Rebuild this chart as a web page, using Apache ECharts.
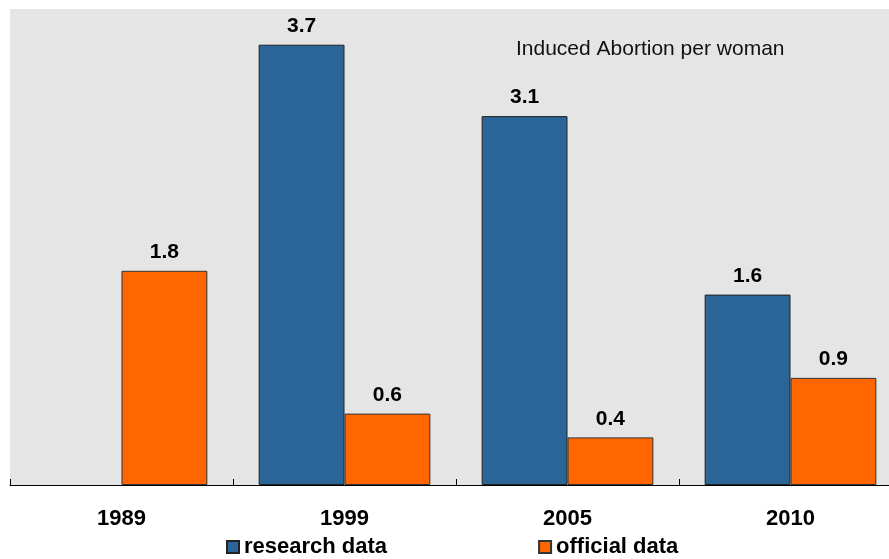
<!DOCTYPE html>
<html><head><meta charset="utf-8">
<script src="https://cdn.jsdelivr.net/npm/echarts@6/dist/echarts.min.js"></script>
<style>html,body{margin:0;padding:0;background:#fff;overflow:hidden;width:889px;height:559px}#c{width:902px;height:559px}</style>
</head><body><div id="c"></div>
<script>
var categories = ['1989', '1999', '2005', '2010'];
var researchData = [null, 3.7, 3.1, 1.6];
var officialData = [1.8, 0.6, 0.4, 0.9];
var seriesNames = ['research data', 'official data'];
var subtitle = 'Induced Abortion per woman';

var FONT = '"Liberation Sans", Arial, sans-serif';
var chart = echarts.init(document.getElementById('c'), null, {renderer: 'canvas'});
var labelStyle = {show: true, position: 'top', distance: 8, color: '#000', fontFamily: FONT, fontWeight: 'bold', fontSize: 21,
  formatter: function (p) { return p.value == null ? '' : p.value.toFixed(1); }};
chart.setOption({
  backgroundColor: '#fff',
  animation: false,
  title: {text: subtitle, left: 516, top: 39, padding: 0, textStyle: {fontFamily: FONT, fontWeight: 'normal', fontSize: 21, color: '#111'}},
  legend: {
    data: seriesNames, top: 536, left: 226, padding: 0, itemWidth: 12, itemHeight: 12, itemGap: 151, icon: 'rect',
    textStyle: {fontFamily: FONT, fontWeight: 'bold', fontSize: 22, color: '#000'}
  },
  grid: {left: 10, right: 0, top: 9, bottom: 74, show: true, backgroundColor: '#e5e5e5', borderWidth: 0, containLabel: false},
  xAxis: {
    type: 'category', data: categories,
    axisLine: {lineStyle: {color: '#000', width: 1}},
    axisTick: {show: true, inside: true, length: 6, lineStyle: {color: '#000'}},
    axisLabel: {margin: 23, color: '#000', fontFamily: FONT, fontWeight: 'bold', fontSize: 22}
  },
  yAxis: {type: 'value', min: 0, max: 4, show: false, splitLine: {show: false}},
  series: [
    {name: seriesNames[0], type: 'bar', data: researchData, barGap: '0%', barCategoryGap: '23%',
     itemStyle: {color: '#2b6496', borderColor: '#222', borderWidth: 1}, label: labelStyle},
    {name: seriesNames[1], type: 'bar', data: officialData, barGap: '0%', barCategoryGap: '23%',
     itemStyle: {color: '#ff6600', borderColor: '#333', borderWidth: 1}, label: labelStyle}
  ]
});
</script></body></html>
